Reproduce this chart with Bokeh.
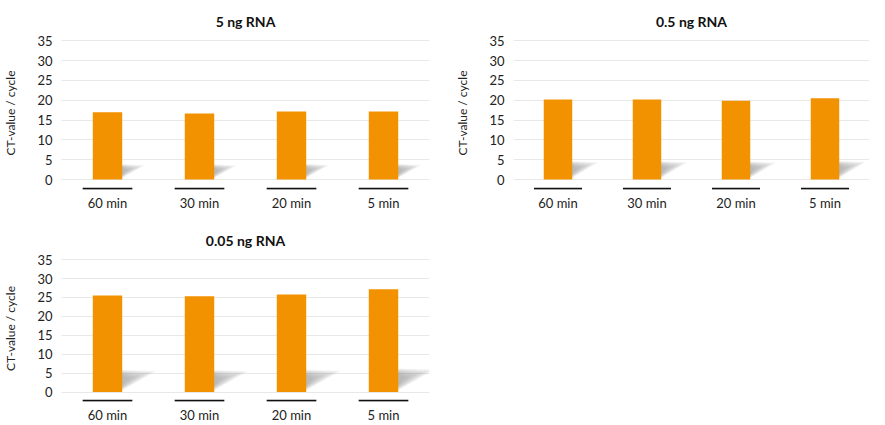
from bokeh.plotting import figure
from bokeh.layouts import column, row
from bokeh.models import Range1d, FixedTicker
from bokeh.embed import file_html
from bokeh.resources import INLINE

categories = ["60 min", "30 min", "20 min", "5 min"]
titles = ["5 ng RNA", "0.5 ng RNA", "0.05 ng RNA"]
ct_5ng = [17.0, 16.7, 17.2, 17.2]
ct_05ng = [20.2, 20.2, 19.9, 20.5]
ct_005ng = [25.5, 25.3, 25.8, 27.2]
y_ticks = [0, 5, 10, 15, 20, 25, 30, 35]

BAR = "#F39200"
FONT = "Lato"


def make(title, values, width, height, left, right, bottom, top, standoff):
    p = figure(width=width, height=height, output_backend="svg", toolbar_location=None,
               x_range=Range1d(0, len(categories)), y_range=Range1d(-2.5, 36.1),
               min_border_left=left, min_border_right=right, min_border_bottom=bottom,
               min_border_top=top, outline_line_color=None)
    p.title.text = title
    p.title.align = "center"
    p.title.text_font = FONT
    p.title.text_font_size = "14px"
    p.title.text_font_style = "bold"
    p.title.text_color = "#111111"
    p.title.standoff = standoff

    xs = [i + 0.5 for i in range(len(categories))]
    bw = 0.32
    # soft cast shadows on the floor, derived from each bar's height
    n_layers = 9
    for k in range(n_layers):
        f = 1.0 - 0.8 * k / (n_layers - 1)
        g = 0.45 + 0.55 * f
        sx, sy = [], []
        for xc, v in zip(xs, values):
            T = v * 0.23
            b = 0.3
            dx = v * 0.015
            mid = (b + T) / 2
            hh = (T - b) / 2
            tipy = T - 0.3
            xr = xc + bw / 2 - 0.01
            sx.append([xr, xr, xr + f * dx])
            sy.append([mid - hh * g, mid + hh * g, mid + f * (tipy - mid)])
        p.patches(sx, sy, fill_color="#808080", fill_alpha=0.08, line_color=None)

    p.vbar(x=xs, top=values, bottom=0, width=bw, fill_color=BAR, line_color=None)
    p.segment(x0=[x - 0.27 for x in xs], x1=[x + 0.27 for x in xs],
              y0=[-2.3] * len(xs), y1=[-2.3] * len(xs), line_color="#111111", line_width=2)

    p.xgrid.grid_line_color = None
    p.ygrid.grid_line_color = "#e8e8e8"
    p.ygrid.grid_line_width = 1
    p.yaxis.ticker = FixedTicker(ticks=y_ticks)
    p.xaxis.ticker = FixedTicker(ticks=xs)
    p.xaxis.major_label_overrides = {x: c for x, c in zip(xs, categories)}
    for ax in (p.xaxis, p.yaxis):
        ax.axis_line_color = None
        ax.major_tick_line_color = None
        ax.minor_tick_line_color = None
        ax.major_tick_out = 0
        ax.major_tick_in = 0
        ax.major_label_text_font = FONT
        ax.major_label_text_font_size = "13px"
        ax.major_label_text_color = "#222222"
    p.xaxis.major_label_standoff = 5
    p.yaxis.major_label_standoff = 9
    p.yaxis.axis_label = "CT-value / cycle"
    p.yaxis.axis_label_text_font = FONT
    p.yaxis.axis_label_text_font_size = "12px"
    p.yaxis.axis_label_text_font_style = "normal"
    p.yaxis.axis_label_text_color = "#222222"
    p.yaxis.axis_label_standoff = 16
    return p


p1 = make(titles[0], ct_5ng, 452, 219, 54, 23, 30, 36, 13)
p2 = make(titles[1], ct_05ng, 417, 219, 57, 0, 30, 36, 13)
p3 = make(titles[2], ct_005ng, 452, 206, 54, 23, 20, 36, 13)

layout = column(row(p1, p2), row(p3))
open("out.html", "w").write(file_html(layout, INLINE))
